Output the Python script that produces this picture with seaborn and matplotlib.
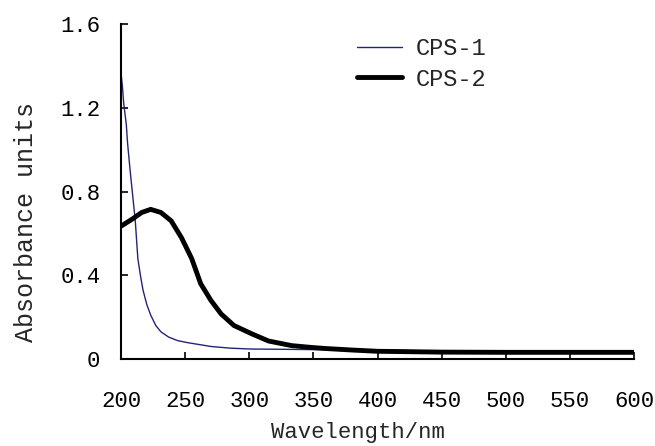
import numpy as np
import pandas as pd
import seaborn as sns
import matplotlib.pyplot as plt

# CPS-1 (thin, navy)
wl_1 = [200, 201, 202, 204, 205, 207, 209, 211, 213, 215, 217, 220, 223, 227, 231,
        237, 244, 252, 260, 270, 285, 300, 350, 400, 430, 450, 500, 600]
abs_1 = [1.36, 1.30, 1.22, 1.12, 1.03, 0.90, 0.78, 0.66, 0.48, 0.40, 0.33, 0.26, 0.21,
         0.16, 0.13, 0.105, 0.088, 0.078, 0.070, 0.060, 0.052, 0.048, 0.045, 0.043,
         0.040, 0.035, 0.033, 0.032]

# CPS-2 (thick, black)
wl_2 = [200, 209, 216, 223, 231, 239, 247, 255, 262, 270, 278, 288, 302, 315, 333,
        349, 360, 380, 400, 450, 500, 600]
abs_2 = [0.635, 0.67, 0.70, 0.715, 0.70, 0.66, 0.58, 0.48, 0.36, 0.28, 0.215, 0.16,
         0.12, 0.086, 0.064, 0.055, 0.05, 0.043, 0.037, 0.033, 0.032, 0.032]

df = pd.concat([
    pd.DataFrame({'wl': wl_1, 'abs': abs_1, 'sample': 'CPS-1'}),
    pd.DataFrame({'wl': wl_2, 'abs': abs_2, 'sample': 'CPS-2'}),
])

sns.set_style('ticks')
plt.rcParams['font.family'] = ['Liberation Mono', 'DejaVu Sans Mono']

fig = plt.figure(figsize=(6.55, 4.46), dpi=100)
ax = fig.add_axes([0.185, 0.195, 0.783, 0.751])

sns.lineplot(data=df, x='wl', y='abs', hue='sample', size='sample',
             palette={'CPS-1': '#23237a', 'CPS-2': '#000000'},
             sizes={'CPS-1': 1.0, 'CPS-2': 3.5}, ax=ax)

ax.set_xlim(200, 600)
ax.set_ylim(0, 1.6)
ax.set_xticks(np.arange(200, 601, 50))
ax.set_yticks([0, 0.4, 0.8, 1.2, 1.6])
ax.set_yticklabels(['0', '0.4', '0.8', '1.2', '1.6'])
ax.tick_params(direction='in', length=5, width=1.2, colors='black', labelsize=16)
ax.tick_params(axis='x', pad=23)
ax.tick_params(axis='y', pad=15)
for s in ['top', 'right']:
    ax.spines[s].set_visible(False)
for s in ['left', 'bottom']:
    ax.spines[s].set_linewidth(1.5)
    ax.spines[s].set_color('black')

ax.set_xlabel('Wavelength/nm', fontsize=16)
ax.set_ylabel('Absorbance units', fontsize=18)
ax.xaxis.set_label_coords(0.462, -0.188)
ax.yaxis.set_label_coords(-0.163, 0.409)

leg = ax.legend(loc='upper left', bbox_to_anchor=(0.46, 0.96), frameon=False,
                fontsize=17, handlelength=1.9, handletextpad=0.6,
                labelspacing=0.3, borderpad=0, borderaxespad=0)

fig.savefig('out.png', dpi=100)
